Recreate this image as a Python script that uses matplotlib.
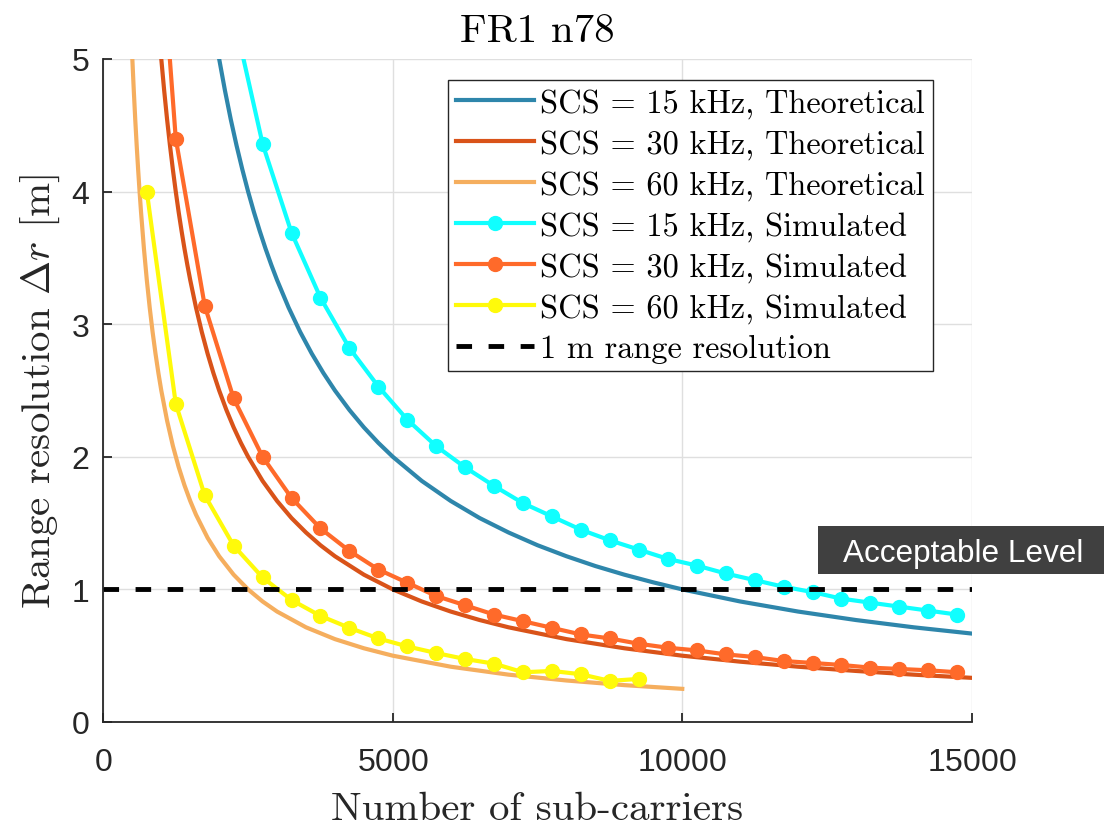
import matplotlib
matplotlib.use("Agg")
import matplotlib.pyplot as plt
from matplotlib.patches import Rectangle

plt.rcParams["mathtext.fontset"] = "cm"
plt.rcParams["axes.formatter.use_mathtext"] = True

# theoretical curves
theo15_x = [1900, 2000, 2100, 2200, 2300, 2400, 2500, 2600, 2700, 2800, 2900, 3000, 3200, 3400,
            3600, 3800, 4000, 4250, 4500, 4750, 5000, 5500, 6000, 6500, 7000, 7500, 8000, 8500,
            9000, 9500, 10000, 11000, 12000, 13000, 14000, 15000]
theo15_y = [5.263, 5.0, 4.762, 4.545, 4.348, 4.167, 4.0, 3.846, 3.704, 3.571, 3.448, 3.333, 3.125,
            2.941, 2.778, 2.632, 2.5, 2.353, 2.222, 2.105, 2.0, 1.818, 1.667, 1.538, 1.429, 1.333,
            1.25, 1.176, 1.111, 1.053, 1.0, 0.909, 0.833, 0.769, 0.714, 0.667]

theo30_x = [950, 1000, 1050, 1100, 1150, 1200, 1250, 1300, 1350, 1400, 1450, 1500, 1600, 1700,
            1800, 1900, 2000, 2125, 2250, 2375, 2500, 2750, 3000, 3250, 3500, 3750, 4000, 4500,
            5000, 5500, 6000, 6500, 7000, 8000, 9000, 10000, 11000, 12000, 13000, 14000, 15000]
theo30_y = [5.263, 5.0, 4.762, 4.545, 4.348, 4.167, 4.0, 3.846, 3.704, 3.571, 3.448, 3.333, 3.125,
            2.941, 2.778, 2.632, 2.5, 2.353, 2.222, 2.105, 2.0, 1.818, 1.667, 1.538, 1.429, 1.333,
            1.25, 1.111, 1.0, 0.909, 0.833, 0.769, 0.714, 0.625, 0.556, 0.5, 0.455, 0.417, 0.385,
            0.357, 0.333]

theo60_x = [450, 475, 500, 525, 550, 575, 600, 625, 650, 700, 750, 800, 850, 900, 950, 1000, 1100,
            1200, 1300, 1400, 1500, 1600, 1800, 2000, 2250, 2500, 2750, 3000, 3500, 4000, 4500,
            5000, 6000, 7000, 8000, 9000, 10000]
theo60_y = [5.556, 5.263, 5.0, 4.762, 4.545, 4.348, 4.167, 4.0, 3.846, 3.571, 3.333, 3.125, 2.941,
            2.778, 2.632, 2.5, 2.273, 2.083, 1.923, 1.786, 1.667, 1.563, 1.389, 1.25, 1.111, 1.0,
            0.909, 0.833, 0.714, 0.625, 0.556, 0.5, 0.417, 0.357, 0.313, 0.278, 0.25]

# simulated points
sim15_x = [2250, 2750, 3250, 3750, 4250, 4750, 5250, 5750, 6250, 6750, 7250, 7750, 8250, 8750,
           9250, 9750, 10250, 10750, 11250, 11750, 12250, 12750, 13250, 13750, 14250, 14750]
sim15_y = [5.33, 4.36, 3.69, 3.20, 2.82, 2.53, 2.28, 2.08, 1.92, 1.78, 1.65, 1.55, 1.45, 1.37,
           1.30, 1.23, 1.18, 1.12, 1.07, 1.02, 0.98, 0.93, 0.90, 0.87, 0.84, 0.81]

sim30_x = [750, 1250, 1750, 2250, 2750, 3250, 3750, 4250, 4750, 5250, 5750, 6250, 6750, 7250,
           7750, 8250, 8750, 9250, 9750, 10250, 10750, 11250, 11750, 12250, 12750, 13250,
           13750, 14250, 14750]
sim30_y = [7.33, 4.40, 3.14, 2.44, 2.00, 1.69, 1.46, 1.29, 1.15, 1.05, 0.95, 0.88, 0.81, 0.76,
           0.71, 0.66, 0.63, 0.59, 0.56, 0.54, 0.51, 0.49, 0.46, 0.445, 0.43, 0.41,
           0.40, 0.39, 0.375]

sim60_x = [750, 1250, 1750, 2250, 2750, 3250, 3750, 4250, 4750, 5250, 5750, 6250, 6750, 7250,
           7750, 8250, 8750, 9250]
sim60_y = [4.00, 2.40, 1.71, 1.33, 1.09, 0.92, 0.80, 0.71, 0.63, 0.57, 0.52, 0.475, 0.44, 0.375,
           0.385, 0.36, 0.31, 0.325]

threshold = 1.0
labels = ["SCS = 15 kHz, Theoretical", "SCS = 30 kHz, Theoretical", "SCS = 60 kHz, Theoretical",
          "SCS = 15 kHz, Simulated", "SCS = 30 kHz, Simulated", "SCS = 60 kHz, Simulated",
          "1 m range resolution"]

serif = "cmr10"
sans = "Liberation Sans"
dark = "#262626"

fig = plt.figure(figsize=(11.04, 8.29), dpi=100)
ax = fig.add_axes([103.4 / 1104, 1 - 723 / 829, (971.7 - 103.4) / 1104, (723 - 60) / 829])

lw = 3.0
ax.plot(theo15_x, theo15_y, color="#2E86AB", lw=lw, label=labels[0])
ax.plot(theo30_x, theo30_y, color="#D95319", lw=lw, label=labels[1])
ax.plot(theo60_x, theo60_y, color="#F5AE5E", lw=lw, label=labels[2])
ax.plot(sim15_x, sim15_y, color="#10FFFF", lw=lw, marker="o", ms=10, label=labels[3])
ax.plot(sim30_x, sim30_y, color="#FF6A2A", lw=lw, marker="o", ms=10, label=labels[4])
ax.plot(sim60_x, sim60_y, color="#FFFA0A", lw=lw, marker="o", ms=10, label=labels[5])
ax.plot([0, 15000], [threshold, threshold], color="black", lw=3.5, dashes=(3.2, 3.4),
        label=labels[6])

ax.set_xlim(0, 15000)
ax.set_ylim(0, 5)
ax.set_xticks([0, 5000, 10000, 15000])
ax.set_yticks([0, 1, 2, 3, 4, 5])
ax.grid(True, color="#DFDFDF", lw=1.0)
ax.set_axisbelow(True)
for s in ["top", "right"]:
    ax.spines[s].set_visible(False)
for s in ["left", "bottom"]:
    ax.spines[s].set_color(dark)
    ax.spines[s].set_linewidth(1.3)
ax.tick_params(direction="in", length=6.5, width=1.3, color=dark, labelcolor=dark,
               labelsize=23, labelfontfamily=sans)
ax.tick_params(axis="x", pad=18)
ax.tick_params(axis="y", pad=10)

ax.set_xlabel("Number of sub-carriers", fontname=serif, fontsize=29.5, color=dark, labelpad=10)
ax.set_ylabel(r"Range resolution $\Delta r$ [m]", fontname=serif, fontsize=29.5, color=dark,
              labelpad=6)
ax.set_title("FR1 n78", fontname=serif, fontsize=29.5, color="black", pad=13)

leg = ax.legend(loc="upper right", bbox_to_anchor=(0.955, 0.968), borderaxespad=0,
                prop={"family": serif, "size": 23.3}, frameon=True, fancybox=False,
                handlelength=2.4, handletextpad=0.18, labelspacing=0.34, borderpad=0.25,
                framealpha=1)
leg.get_frame().set_edgecolor(dark)
leg.get_frame().set_linewidth(1.0)

# "Acceptable Level" callout
ax.add_patch(Rectangle((12350, 1.115), 5500, 0.362, facecolor="#404040", edgecolor="none",
                       clip_on=False, zorder=5))
ax.text(12780, 1.275, "Acceptable Level", fontname=sans, fontsize=22.7, color="white",
        ha="left", va="center", clip_on=False, zorder=6)

fig.savefig("out.png", dpi=100)
